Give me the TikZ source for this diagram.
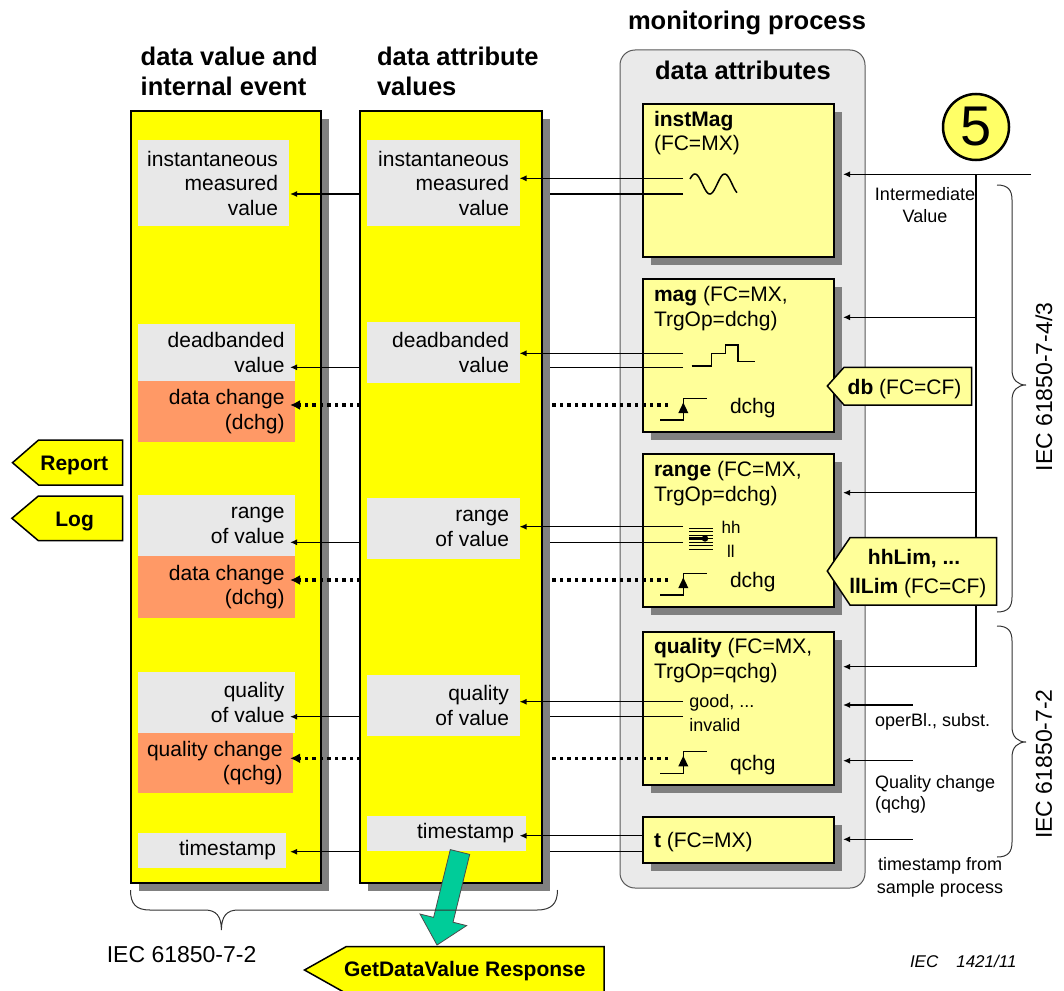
\documentclass[tikz,border=0pt]{standalone}
\usepackage{fontspec}
\setmainfont{Liberation Sans}
\usetikzlibrary{arrows.meta,shadows}
\definecolor{colY}{HTML}{FFFF00}
\definecolor{lblG}{HTML}{E8E8E8}
\definecolor{orng}{HTML}{FF9966}
\definecolor{ltY}{HTML}{FFFF99}
\definecolor{shd}{HTML}{808080}
\definecolor{grn}{HTML}{00CC99}
\definecolor{contG}{HTML}{EAEAEA}
\definecolor{circY}{HTML}{FFFF66}
\newcommand\fsz[1]{\fontsize{#1}{#1}\selectfont}
\begin{document}
\begin{tikzpicture}[x=1pt,y=-1pt,
  every node/.style={inner sep=0pt, outer sep=0pt},
  colbox/.style={draw=black, line width=2pt, fill=colY, anchor=north west,
    drop shadow={shadow xshift=8pt, shadow yshift=-8pt, fill=shd, opacity=1}},
  mbox/.style={draw=black, line width=2pt, fill=ltY, anchor=north west, minimum width=191pt,
    drop shadow={shadow xshift=8pt, shadow yshift=-8pt, fill=shd, opacity=1}},
  gbox/.style={fill=lblG, anchor=north west},
  obox/.style={fill=orng, anchor=north west},
  ltxt/.style={align=right, anchor=east, font=\fontsize{21}{24.5}\selectfont},
  ttl/.style={font=\bfseries\fsz{25.5}, anchor=base west},
  mt/.style={font=\fsz{21}, anchor=base west},
  st/.style={font=\fsz{18}, anchor=base west},
  ln/.style={line width=1.3pt},
  arr/.style={ln, -{Latex[length=7pt,width=6pt]}},
  dotarr/.style={line width=3.5pt, dash pattern=on 3.5pt off 4pt, -{Latex[length=10pt,width=10pt]}},
  callY/.style={draw=black, line width=1.5pt, fill=colY},
  callL/.style={draw=black, line width=1.5pt, fill=ltY},
  bracel/.style={draw=black!80, line width=1pt},
  icon/.style={line width=1.5pt},
  trig/.pic={\draw[icon] (-8,15) -- (15.3,15) -- (15.3,-6.7) -- (39.3,-6.7);
             \fill (15.3,-2.5) -- (10.3,8) -- (20.3,8) -- cycle;}
]
\useasboundingbox (0,0) rectangle (1064,990);

% titles
\node[ttl] (t1a) at (140.7,65) {data value and};
\node[ttl] (t1b) at (140.7,95) {internal event};
\node[ttl] (t2a) at (377,65) {data attribute};
\node[ttl] (t2b) at (377,95) {values};
\node[ttl] (t3) at (628,30) {monitoring process};

% container
\node[draw=black!65, line width=1pt, fill=contG, rounded corners=15pt, anchor=north west,
  minimum width=245pt, minimum height=838pt] (cont) at (620,50) {};
\node[ttl] (t4) at (655,79) {data attributes};

% monitoring boxes
\node[mbox, minimum height=153pt] (m1) at (643,104) {};
\node[mbox, minimum height=153pt] (m2) at (643,279) {};
\node[mbox, minimum height=153pt] (m3) at (643,454) {};
\node[mbox, minimum height=153pt] (m4) at (643,632) {};
\node[mbox, minimum height=46pt] (m5) at (643,817) {};

\node[mt] (m1a) at (654,126) {\textbf{instMag}};
\node[mt] (m1b) at (654,150) {(FC=MX)};
\node[mt] (m2a) at (654,301.7) {\textbf{mag} (FC=MX,};
\node[mt] (m2b) at (654,326) {TrgOp=dchg)};
\node[mt] (m3a) at (654,476) {\textbf{range} (FC=MX,};
\node[mt] (m3b) at (654,501) {TrgOp=dchg)};
\node[mt] (m4a) at (654,653.3) {\textbf{quality} (FC=MX,};
\node[mt] (m4b) at (654,678.3) {TrgOp=qchg)};
\node[mt] (m5a) at (654,847.3) {\textbf{t} (FC=MX)};
\node[mt] (m2c) at (730,413) {dchg};
\node[mt] (m3c) at (730,587.7) {dchg};
\node[mt] (m4c) at (730,770) {qchg};
\node[font=\fsz{17}, anchor=base west] (m3h) at (721.7,533.3) {hh};
\node[font=\fsz{17}, anchor=base west] (m3l) at (727,557.3) {ll};
\node[st] (m4g) at (689.3,707.7) {good, ...};
\node[st] (m4i) at (689.3,731.7) {invalid};

% icons
\draw[icon] plot[domain=30:600, samples=60, smooth] ({690+(\x-30)/570*47}, {184-10*sin(\x)});
\draw[icon] (691.7,366) -- (711.7,366) -- (711.7,353.3) -- (725.5,353.3) -- (725.5,345)
  -- (738,345) -- (738,361.7) -- (754.5,361.7);
\foreach \i in {0,...,6} \draw[line width=1pt] (689.3,{528+\i*3.5}) -- (713.3,{528+\i*3.5});
\draw[line width=2.2pt] (689.3,538.5) -- (705,538.5);
\fill (705,538.5) circle (3.2pt);
\pic at (668,405) {trig};
\pic at (668,580) {trig};
\pic at (668,758.3) {trig};

% right side inputs
\coordinate (sh) at (843,0);
\coordinate (inT) at (1031,174.3);
\coordinate (jT) at (976,174.3);
\coordinate (j2) at (976,317.3);
\coordinate (j3) at (976,492.7);
\coordinate (jQ) at (976,666.7);
\coordinate (q1) at (912.7,705);
\coordinate (q2) at (912.7,760.7);
\coordinate (q3) at (912.7,839.3);
\draw[ln] (jT) -- (jQ);
\draw[arr] (inT) -- (sh |- inT);
\draw[arr] (j2) -- (sh |- j2);
\draw[arr] (j3) -- (sh |- j3);
\draw[arr] (jQ) -- (sh |- jQ);
\draw[arr] (q1) -- (sh |- q1);
\draw[arr] (q2) -- (sh |- q2);
\draw[arr] (q3) -- (sh |- q3);

\node[st, anchor=base] (iv1) at (925,200) {Intermediate};
\node[st, anchor=base] (iv2) at (925,222.3) {Value};
\node[st] (ob) at (875,726.7) {operBl., subst.};
\node[st] (qc1) at (875,788.3) {Quality change};
\node[st] (qc2) at (875,809.3) {(qchg)};
\node[st, anchor=base] (ts1) at (940,870.7) {timestamp from};
\node[st, anchor=base] (ts2) at (940,893.3) {sample process};

% callouts
\draw[callL] (827.3,386) -- (844,367.3) -- (971.7,367.3) -- (971.7,405) -- (844,405) -- cycle;
\node[mt] (db) at (847.7,394) {\textbf{db} (FC=CF)};
\draw[callL] (827.3,571) -- (850,537.7) -- (996.7,537.7) -- (996.7,605) -- (850,605) -- cycle;
\node[mt, anchor=base] (hhl) at (914,564) {\textbf{hhLim, ...}};
\node[mt] (lll) at (849.3,593.3) {\textbf{llLim} (FC=CF)};

\node[circle, draw=black, line width=2.5pt, fill=circY, minimum size=66pt, font=\fsz{56}] (five) at (976,127) {5};

% column 1
\node[colbox, minimum width=190pt, minimum height=772pt] (col1) at (130.5,111) {};
\node[gbox, minimum width=151pt, minimum height=86pt] (c1a) at (138,140) {};
\node[ltxt] (c1aT) at ([xshift=-11pt]c1a.east) {instantaneous\\measured\\value};
\node[gbox, minimum width=157pt, minimum height=57pt] (c1b) at (138,324) {};
\node[ltxt] (c1bT) at ([xshift=-10.5pt]c1b.east) {deadbanded\\value};
\node[obox, minimum width=157pt, minimum height=61pt] (c1c) at (138,381) {};
\node[ltxt] (c1cT) at ([xshift=-10.5pt]c1c.east) {data change\\(dchg)};
\node[gbox, minimum width=157pt, minimum height=61pt] (c1d) at (138,495) {};
\node[ltxt] (c1dT) at ([xshift=-10.5pt]c1d.east) {range\\of value};
\node[obox, minimum width=157pt, minimum height=62pt] (c1e) at (138,556) {};
\node[ltxt] (c1eT) at ([xshift=-10.5pt]c1e.east) {data change\\(dchg)};
\node[gbox, minimum width=157pt, minimum height=61pt] (c1f) at (138,672) {};
\node[ltxt] (c1fT) at ([xshift=-10.5pt]c1f.east) {quality\\of value};
\node[obox, minimum width=155pt, minimum height=60pt] (c1g) at (138,733) {};
\node[ltxt] (c1gT) at ([xshift=-10.5pt]c1g.east) {quality change\\(qchg)};
\node[gbox, minimum width=148pt, minimum height=35pt] (c1h) at (138,833) {};
\node[ltxt] (c1hT) at ([xshift=-10pt]c1h.east) {timestamp};

% lower lines (behind column 2)
\coordinate (tip1) at (290,0);
\coordinate (m1l) at (683,194);
\coordinate (m2l) at (683,367.3);
\coordinate (m3l) at (683,542.3);
\coordinate (m4l) at (683,716.7);
\coordinate (m5l) at (m5.west |- 0,851.7);
\coordinate (d2) at (668,405);
\coordinate (d3) at (668,580);
\coordinate (d4) at (668,758.3);
\draw[arr] (m1l) -- (tip1 |- m1l);
\draw[arr] (m2l) -- (tip1 |- m2l);
\draw[arr] (m3l) -- (tip1 |- m3l);
\draw[arr] (m4l) -- (tip1 |- m4l);
\draw[arr] (m5l) -- (tip1 |- m5l);
\draw[dotarr] (d2) -- (tip1 |- d2);
\draw[dotarr] (d3) -- (tip1 |- d3);
\draw[dotarr] (d4) -- (tip1 |- d4);

% column 2
\node[colbox, minimum width=182pt, minimum height=772pt] (col2) at (360,111) {};
\node[gbox, minimum width=153pt, minimum height=86pt] (c2a) at (367,140) {};
\node[ltxt] (c2aT) at ([xshift=-11pt]c2a.east) {instantaneous\\measured\\value};
\node[gbox, minimum width=153pt, minimum height=61pt] (c2b) at (367,322) {};
\node[ltxt] (c2bT) at ([xshift=-11pt]c2b.east) {deadbanded\\value};
\node[gbox, minimum width=153pt, minimum height=61pt] (c2c) at (367,498) {};
\node[ltxt] (c2cT) at ([xshift=-11pt]c2c.east) {range\\of value};
\node[gbox, minimum width=153pt, minimum height=61pt] (c2d) at (367,675) {};
\node[ltxt] (c2dT) at ([xshift=-11pt]c2d.east) {quality\\of value};
\node[gbox, minimum width=159pt, minimum height=35pt] (c2e) at (367,816) {};
\node[ltxt] (c2eT) at ([xshift=-12pt]c2e.east) {timestamp};

% upper lines
\coordinate (tip2) at (519.5,0);
\coordinate (m1u) at (683,178.3);
\coordinate (m2u) at (683,353.3);
\coordinate (m3u) at (683,526.7);
\coordinate (m4u) at (683,701.7);
\coordinate (m5u) at (m5.west |- 0,835.7);
\draw[arr] (m1u) -- (tip2 |- m1u);
\draw[arr] (m2u) -- (tip2 |- m2u);
\draw[arr] (m3u) -- (tip2 |- m3u);
\draw[arr] (m4u) -- (tip2 |- m4u);
\draw[arr] (m5u) -- (tip2 |- m5u);

% green arrow
\draw[fill=grn, draw=black!70, line width=0.8pt] (450.3,849.6) -- (469.7,854.4) -- (453,922.2)
  -- (466.6,925.6) -- (437,945) -- (420,914) -- (433.6,917.4) -- cycle;

% braces
\draw[bracel] (130.5,890) .. controls (130.5,904) and (136,910) .. (150,910) -- (205,910)
  .. controls (216,910) and (221.4,916) .. (221.4,930)
  .. controls (221.4,916) and (227,910) .. (238,910) -- (537,910)
  .. controls (551,910) and (557.5,904) .. (557.5,890);
\draw[bracel] (997,185) .. controls (1008,185) and (1012,190) .. (1012,200) -- (1012,370)
  .. controls (1012,380) and (1018,385) .. (1026,385)
  .. controls (1018,385) and (1012,390) .. (1012,400) -- (1012,597)
  .. controls (1012,607) and (1008,612) .. (997,612);
\draw[bracel] (997,626) .. controls (1008,626) and (1012,631) .. (1012,641) -- (1012,727)
  .. controls (1012,737) and (1018,742) .. (1026,742)
  .. controls (1018,742) and (1012,747) .. (1012,757) -- (1012,842)
  .. controls (1012,852) and (1008,857) .. (997,857);

\node[font=\fsz{23}, rotate=90] (iec1) at (1044,387) {IEC 61850-7-4/3};
\node[font=\fsz{23}, rotate=90] (iec2) at (1044,764) {IEC 61850-7-2};
\node[font=\fsz{23}, anchor=base west] (iecB) at (106.8,962.7) {IEC 61850-7-2};
\node[font=\itshape\fsz{17}, anchor=base west] (fig) at (910,967.3) {IEC\hspace{18pt}1421/11};

% left callouts
\draw[callY] (12.5,462.7) -- (38.6,440) -- (122.5,440) -- (122.5,485) -- (38.6,485) -- cycle;
\node[font=\bfseries\fsz{21}, anchor=base west] (rep) at (40.4,470) {Report};
\draw[callY] (11.9,518.3) -- (38.4,496) -- (122.6,496) -- (122.6,540.7) -- (38.4,540.7) -- cycle;
\node[font=\bfseries\fsz{21}, anchor=base west] (log) at (55.4,526) {Log};
\draw[callY] (304.5,970) -- (346,946.7) -- (604,946.7) -- (604,993.3) -- (346,993.3) -- cycle;
\node[font=\bfseries\fsz{21}, anchor=base west] (gdv) at (344,976.7) {GetDataValue Response};
\end{tikzpicture}
\end{document}
